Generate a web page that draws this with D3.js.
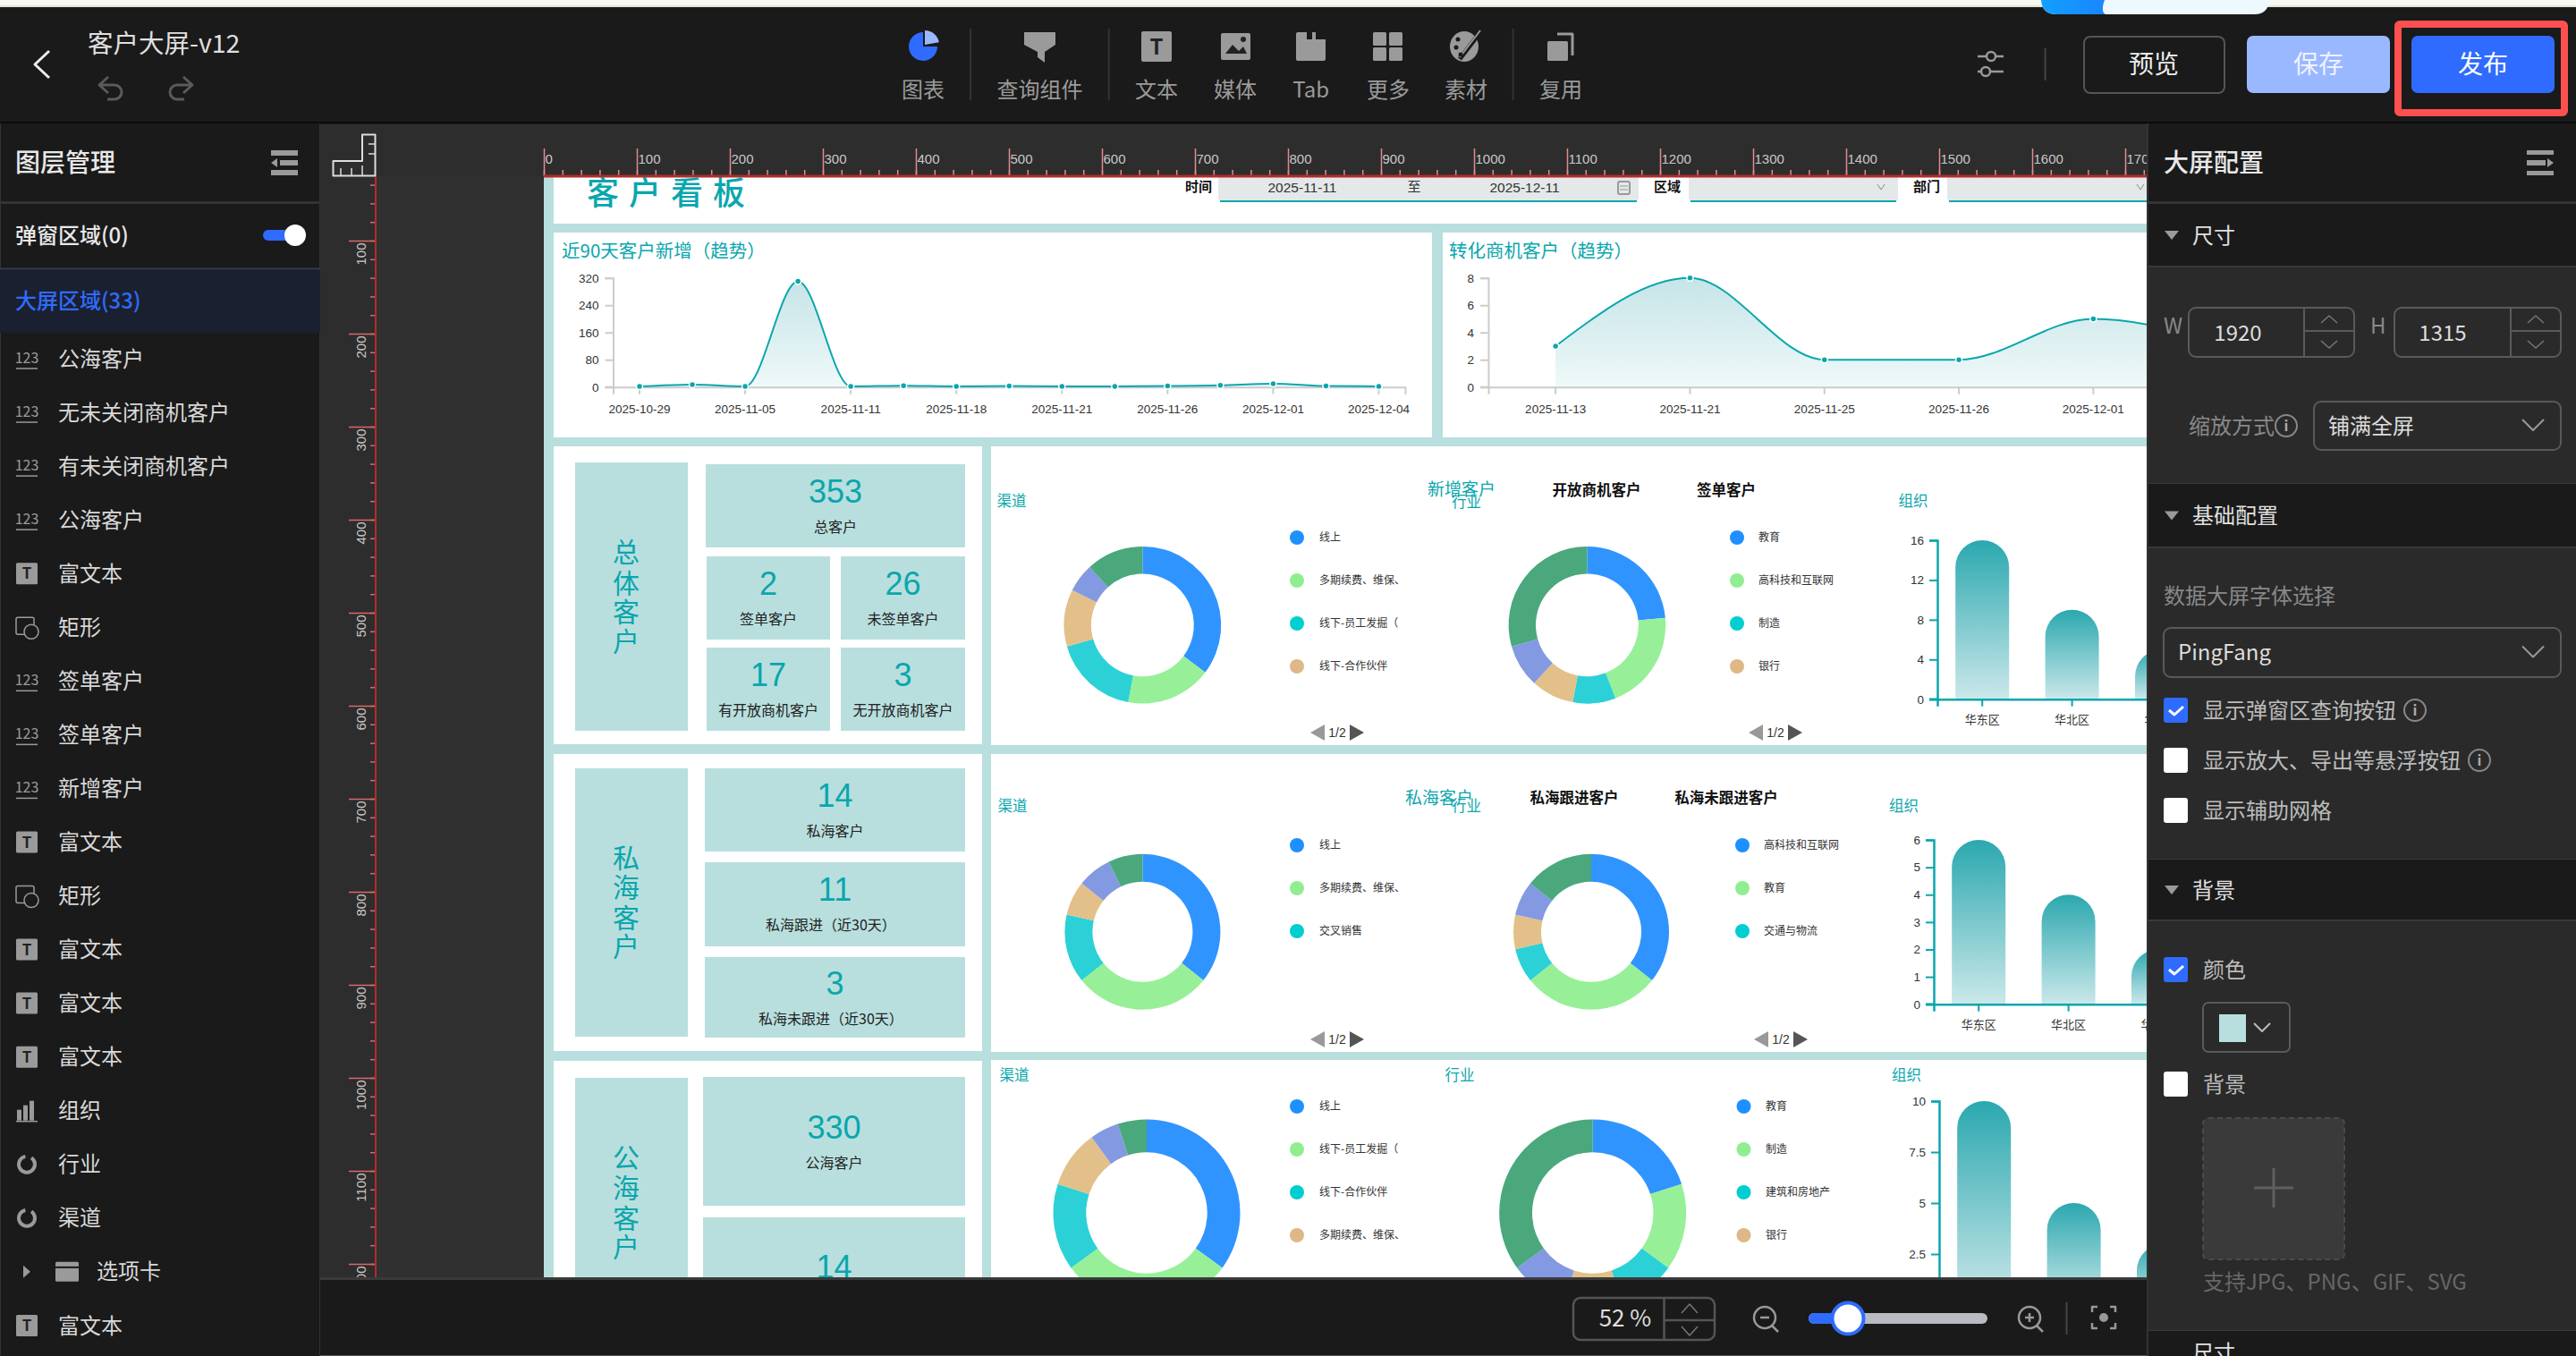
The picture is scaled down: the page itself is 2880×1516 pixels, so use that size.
<!DOCTYPE html>
<html><head><meta charset="utf-8">
<script src="https://cdn.jsdelivr.net/npm/d3@7"></script>
<style>
html,body{margin:0;padding:0;background:#1a1a1a;overflow:hidden}
svg{display:block}
text{font-family:"Liberation Sans","Noto Sans CJK SC",sans-serif}
.ui text,text.ui{font-family:"Noto Sans CJK SC","Noto Sans",sans-serif}
</style></head><body>
<script>
// ---------- DATA ----------
const trendDates = ["2025-10-29","2025-11-03","2025-11-05","2025-11-07","2025-11-11","2025-11-14","2025-11-18","2025-11-19","2025-11-21","2025-11-24","2025-11-26","2025-11-28","2025-12-01","2025-12-02","2025-12-04"];
const trendValues = [2,7,2,310,2,4,2,3,2,2,3,5,10,3,2];
const trendLabelled = ["2025-10-29","2025-11-05","2025-11-11","2025-11-18","2025-11-21","2025-11-26","2025-12-01","2025-12-04"];
const trendTicks = [0,80,160,240,320];
const convDates = ["2025-11-13","2025-11-21","2025-11-25","2025-11-26","2025-12-01","2025-12-04"];
const convValues = [3,8,2,2,5,3];
const convTicks = [0,2,4,6,8];

const pieChannel1 = [6,3,3,2,1,2];
const pieIndustry1 = [8,7,3,3,3,10];
const pieChannel2 = [5,4,2,1,1,1];
const pieIndustry2 = [5,4,1,1,1,2];
const pieChannel3 = [7,6,3,2,1,1];
const pieIndustry3 = [4,3,2,2,2,7];
const legendChannel1 = ["线上","多期续费、维保、","线下-员工发掘（","线下-合作伙伴"];
const legendIndustry1 = ["教育","高科技和互联网","制造","银行"];
const legendChannel2 = ["线上","多期续费、维保、","交叉销售"];
const legendIndustry2 = ["高科技和互联网","教育","交通与物流"];
const legendChannel3 = ["线上","线下-员工发掘（","线下-合作伙伴","多期续费、维保、"];
const legendIndustry3 = ["教育","制造","建筑和房地产","银行"];

const orgNames = ["华东区","华北区","华南区"];
const orgValues1 = [16,9,5];
const orgValues2 = [6,4,2];
const orgValues3 = [10,5,3];
const orgTicks1 = [0,4,8,12,16];
const orgTicks2 = [0,1,2,3,4,5,6];
const orgTicks3 = [0,2.5,5,7.5,10];

const layerNames = ["公海客户","无未关闭商机客户","有未关闭商机客户","公海客户","富文本","矩形","签单客户","签单客户","新增客户","富文本","矩形","富文本","富文本","富文本","组织","行业","渠道","选项卡","富文本"];
const layerKinds = ["n","n","n","n","t","r","n","n","n","t","r","t","t","t","b","d","d","f","t"];
const toolNames = ["图表","查询组件","文本","媒体","Tab","更多","素材","复用"];
const rulerXMajor = d3.range(0,1800,100);
const rulerXMinor = d3.range(0,1800,20);
const rulerYMajor = d3.range(0,1300,100);
const rulerYMinor = d3.range(0,1300,20);

// ---------- COLOURS ----------
const TEAL="#0aa6ad", BG="#b8dfde", DARK="#1a1a1a";
const sliceColors=["#3094ff","#97f097","#2bd1d6","#e3c089","#8399e2","#4aa87c"];
const legendColors=["#1e90ff","#90ee90","#00ced1","#deb887"];

// ---------- HELPERS ----------
const svg=d3.select("body").append("svg").attr("width",2880).attr("height",1516).attr("viewBox","0 0 2880 1516");
const defs=svg.append("defs");
function clip(id,x,y,w,h){defs.append("clipPath").attr("id",id).append("rect").attr("x",x).attr("y",y).attr("width",w).attr("height",h);}
function R(g,x0,y0,x1,y1,fill,o={}){const r=g.append("rect").attr("x",x0).attr("y",y0).attr("width",x1-x0).attr("height",y1-y0).attr("fill",fill);
  if(o.rx)r.attr("rx",o.rx); if(o.stroke)r.attr("stroke",o.stroke).attr("stroke-width",o.sw||2); if(o.dash)r.attr("stroke-dasharray",o.dash); return r;}
function T(g,x,y,s,size,fill,o={}){return g.append("text").attr("x",x).attr("y",y).attr("dy","0.36em").attr("font-size",size).attr("fill",fill)
  .attr("text-anchor",o.a||"middle").attr("font-weight",o.w||400).attr("letter-spacing",o.ls||null).attr("class",o.ui?"ui":null).text(s);}
function L(g,x0,y0,x1,y1,c,w=2){return g.append("line").attr("x1",x0).attr("y1",y0).attr("x2",x1).attr("y2",y1).attr("stroke",c).attr("stroke-width",w);}
function P(g,d,o={}){return g.append("path").attr("d",d).attr("fill",o.fill||"none").attr("stroke",o.stroke||"none").attr("stroke-width",o.sw||2).attr("stroke-linejoin","round");}

// ---------- FRAME ----------
R(svg,0,0,2880,1516,DARK);
R(svg,0,0,2880,6,"#f6f9f0"); R(svg,0,6,2880,8,"#dfe6d8");
R(svg,358,138,2400,1430,"#2d2d2d");
R(svg,421,197,608,1428,"#303030");
R(svg,0,136,2880,138.5,"#0b0b0b");

// ---------- CANVAS ----------
clip("cv",608,197,1792,1231);
const cv=svg.append("g").attr("clip-path","url(#cv)");
R(cv,608,197,2400,1428,BG);
R(cv,619,197,2400,250,"#fff");
T(cv,656,216.5,"客户看板",36,TEAL,{a:"start",ls:11,w:500,ui:true});

// filter bar
function field(x0,x1){R(cv,x0,190,x1,225,"#e4e8e9",{rx:4});L(cv,x0+2,225,x1-2,225,TEAL,2);}
T(cv,1340,209,"时间",15,"#111",{w:700,ui:true});
field(1362,1832);
T(cv,1456,209,"2025-11-11",15.5,"#333");T(cv,1581,209,"至",15,"#333",{ui:true});T(cv,1704.5,209,"2025-12-11",15.5,"#333");
R(cv,1809,203,1822,217,"none",{stroke:"#999",sw:2,rx:2});L(cv,1811,208,1820,208,"#999",1);L(cv,1811,212,1820,212,"#999",1);
T(cv,1864,209,"区域",15,"#111",{w:700,ui:true});
field(1888,2122);
P(cv,"M2099,206 L2103,212 L2107,206",{stroke:"#888",sw:1});
T(cv,2154,209,"部门",15,"#111",{w:700,ui:true});
field(2177,2410);
P(cv,"M2389,206 L2393,212 L2397,206",{stroke:"#888",sw:1});

// panels
[[619,260,1601,489],[1613,260,2400,489],
 [619,499,1098,832],[1108,499,2400,833],
 [619,843,1098,1175],[1108,843,2400,1176],
 [619,1186,1098,1428],[1108,1185,2400,1428]].forEach(p=>R(cv,p[0],p[1],p[2],p[3],"#fff"));

// gradients
function vGrad(id,stops){const g=defs.append("linearGradient").attr("id",id).attr("x1",0).attr("y1",0).attr("x2",0).attr("y2",1);
  stops.forEach(s=>g.append("stop").attr("offset",s[0]).attr("stop-color",s[1]));}
vGrad("areaG",[[0,"#c6e4e7"],[1,"#eff9f9"]]);
vGrad("barG",[[0,"#2ba8af"],[1,"#cbe8ea"]]);

function trend(opts){
  const {x0,x1,cats,vals,labelled,ticks,title,titleX}=opts;
  const yTop=310.7,yBot=432.7;
  const x=d3.scaleBand().domain(cats).range([x0,x1]);
  const y=d3.scaleLinear().domain([ticks[0],ticks[ticks.length-1]]).range([yBot,yTop]);
  const cx=d=>x(d)+x.bandwidth()/2;
  const g=cv.append("g");
  T(g,titleX,280.7,title,20.5,TEAL,{a:"start",ui:true});
  const area=d3.area().x((d,i)=>cx(cats[i])).y0(yBot).y1(d=>y(d)).curve(d3.curveMonotoneX);
  const line=d3.line().x((d,i)=>cx(cats[i])).y(d=>y(d)).curve(d3.curveMonotoneX);
  g.append("path").attr("d",area(vals)).attr("fill","url(#areaG)");
  const ax=g.append("g").attr("transform",`translate(0,${yBot})`).call(d3.axisBottom(x).tickValues(labelled).tickSize(8).tickPadding(12));
  const ay=g.append("g").attr("transform",`translate(${x0},0)`).call(d3.axisLeft(y).tickValues(ticks).tickSize(9).tickPadding(7));
  [ax,ay].forEach(a=>{a.select(".domain").attr("stroke","#ccc").attr("stroke-width",2);
    a.selectAll("line").attr("stroke","#ccc").attr("stroke-width",2);
    a.selectAll("text").attr("font-size",13.5).attr("fill","#333").attr("font-family",'"Liberation Sans"');});
  L(g,x0-9,yBot,x0,yBot,"#ccc",2);
  g.append("path").attr("d",line(vals)).attr("fill","none").attr("stroke",TEAL).attr("stroke-width",2);
  g.selectAll("circle").data(vals).join("circle").attr("cx",(d,i)=>cx(cats[i])).attr("cy",d=>y(d)).attr("r",3.5).attr("fill",TEAL).attr("stroke","#fff").attr("stroke-width",1.5);
}
trend({x0:685.5,x1:1571,cats:trendDates,vals:trendValues,labelled:trendLabelled,ticks:trendTicks,title:"近90天客户新增（趋势）",titleX:628});
trend({x0:1664,x1:1664+150.3*6,cats:convDates,vals:convValues,labelled:convDates,ticks:convTicks,title:"转化商机客户（趋势）",titleX:1620});

// KPI
function kpi(x0,y0,x1,y1,num,label,ny,ly,lx){
  R(cv,x0,y0,x1,y1,BG);
  T(cv,(x0+x1)/2,ny,num,36,TEAL);
  if(label)T(cv,lx||(x0+x1)/2,ly,label,16,"#222",{ui:true});
}
function vlabel(chars,ys,y0,y1){R(cv,643,y0,769,y1,BG);chars.split("").forEach((c,i)=>T(cv,700,ys[i],c,30,TEAL,{ui:true}));}
vlabel("总体客户",[617,652,684,717],517,817);
kpi(789,519,1079,612,"353","总客户",549,589);
kpi(790,622,928,715,"2","签单客户",652,692);
kpi(940,622,1079,715,"26","未签单客户",652,692);
kpi(790,724,928,817,"17","有开放商机客户",754,794);
kpi(940,724,1079,817,"3","无开放商机客户",754,794);
vlabel("私海客户",[959,992,1026,1058],859,1159);
kpi(788,859,1079,952,"14","私海客户",889,929);
kpi(788,964,1079,1058,"11","私海跟进（近30天）",994,1034,929);
kpi(788,1070,1079,1160,"3","私海未跟进（近30天）",1099,1139,929);
vlabel("公海客户",[1294,1328,1362,1394],1205,1440);
kpi(786,1204,1079,1348,"330","公海客户",1260,1300);
kpi(786,1361,1079,1460,"14","",1416,0);

// donuts
function donut(vals,cx,cy,Ro,Ri){
  const pie=d3.pie().sort(null)(vals);
  const arc=d3.arc().innerRadius(Ri).outerRadius(Ro);
  cv.append("g").attr("transform",`translate(${cx},${cy})`).selectAll("path").data(pie).join("path").attr("d",arc).attr("fill",(d,i)=>sliceColors[i]);
}
function legend(names,cxx,tx,ys){
  names.forEach((n,i)=>{cv.append("circle").attr("cx",cxx).attr("cy",ys[i]).attr("r",8).attr("fill",legendColors[i]);
    T(cv,tx,ys[i],n,12,"#333",{a:"start",ui:true});});
}
function pager(cx,y){
  P(cv,`M${cx-14},${y-9} L${cx-14},${y+9} L${cx-30},${y} Z`,{fill:"#999"});
  T(cv,cx,y,"1/2",14,"#333");
  P(cv,`M${cx+14},${y-9} L${cx+14},${y+9} L${cx+30},${y} Z`,{fill:"#555"});
}
donut(pieChannel1,1277.4,698.8,87.8,57.4);
donut(pieIndustry1,1774.4,698.8,87.8,57.4);
donut(pieChannel2,1277.4,1041.8,87,56);
donut(pieIndustry2,1779,1041.8,87,56);
donut(pieChannel3,1282,1356,104.5,67.7);
donut(pieIndustry3,1780.7,1356,104.5,67.7);
legend(legendChannel1,1450,1475,[601,649,697,745]);
legend(legendIndustry1,1942,1966,[601,649,697,745]);
legend(legendChannel2,1450,1475,[945,993,1041]);
legend(legendIndustry2,1948,1972,[945,993,1041]);
legend(legendChannel3,1450,1475,[1237,1285,1333,1381]);
legend(legendIndustry3,1949.5,1974,[1237,1285,1333,1381]);
pager(1495,819);pager(1985,819);pager(1495,1162);pager(1991,1162);

// panel titles
T(cv,1131,560,"渠道",16.5,TEAL,{ui:true});T(cv,1639.5,560.7,"行业",16.5,TEAL,{ui:true});
T(cv,1634,547,"新增客户",19,TEAL,{ui:true});
T(cv,1785,548,"开放商机客户",16.5,"#111",{w:700,ui:true});T(cv,1930,548,"签单客户",16.5,"#111",{w:700,ui:true});
T(cv,2139,560,"组织",16.5,TEAL,{ui:true});
T(cv,1132,901,"渠道",16.5,TEAL,{ui:true});T(cv,1639.5,901,"行业",16.5,TEAL,{ui:true});
T(cv,1609,892,"私海客户",19,TEAL,{ui:true});
T(cv,1760,892,"私海跟进客户",16.5,"#111",{w:700,ui:true});T(cv,1930,892,"私海未跟进客户",16.5,"#111",{w:700,ui:true});
T(cv,2128.6,901,"组织",16.5,TEAL,{ui:true});
T(cv,1134,1202,"渠道",16.5,TEAL,{ui:true});T(cv,1632,1202,"行业",16.5,TEAL,{ui:true});T(cv,2131.5,1202,"组织",16.5,TEAL,{ui:true});

// bar charts
function bars(vals,ticks,x0,yTop,yBot){
  const step=100.4,bw=60;
  const x=d3.scaleBand().domain(orgNames).range([x0,x0+step*orgNames.length]);
  const y=d3.scaleLinear().domain([0,ticks[ticks.length-1]]).range([yBot,yTop]);
  const g=cv.append("g");
  g.selectAll("path.bar").data(vals).join("path").attr("class","bar").attr("fill","url(#barG)").attr("d",(d,i)=>{
    const c=x(orgNames[i])+x.bandwidth()/2,t=y(d),b=yBot,r=bw/2,p=d3.path();
    p.moveTo(c-r,b);p.lineTo(c-r,t+r);p.arc(c,t+r,r,Math.PI,0);p.lineTo(c+r,b);p.closePath();return p.toString();});
  const ax=g.append("g").attr("transform",`translate(0,${yBot})`).call(d3.axisBottom(x).tickSize(8).tickPadding(10));
  const ay=g.append("g").attr("transform",`translate(${x0},0)`).call(d3.axisLeft(y).tickValues(ticks).tickSize(9).tickPadding(6).tickFormat(d3.format("~g")));
  [ax,ay].forEach(a=>{a.select(".domain").attr("stroke",TEAL).attr("stroke-width",2.5);
    a.selectAll("line").attr("stroke",TEAL).attr("stroke-width",2);
    a.selectAll("text").attr("font-size",13.5).attr("fill","#333");});
  ax.selectAll("text").attr("font-size",13).attr("font-family",'"Noto Sans CJK SC"');
  L(g,x0-9,yBot,x0,yBot,TEAL,2.5);
}
bars(orgValues1,orgTicks1,2166,604,781.7);
bars(orgValues2,orgTicks2,2162,939,1122.7);
bars(orgValues3,orgTicks3,2168,1231,1459);

// ---------- RULERS ----------
clip("rx",600,138,1800,62);clip("ry",358,197,64,1231);
const rx=svg.append("g").attr("clip-path","url(#rx)");
const sx=d3.scaleLinear().domain([0,1000]).range([608,608+1040]);
const minorX=rx.append("g").attr("transform","translate(0,197)").call(d3.axisTop(sx).tickValues(rulerXMinor).tickSize(7).tickFormat(""));
const majorX=rx.append("g").attr("transform","translate(0,197)").call(d3.axisTop(sx).tickValues(rulerXMajor).tickSize(31).tickFormat(d3.format("d")));
minorX.selectAll("text").remove();
[minorX,majorX].forEach(a=>{a.select(".domain").remove();a.selectAll("line").attr("stroke","#e58b8b").attr("stroke-width",1.5);});
majorX.selectAll("text").attr("text-anchor","start").attr("x",1).attr("y",-14).attr("dy","0").attr("fill","#c8c8c8").attr("font-size",15);
R(rx,608,195.5,2400,198.5,"#b02c2c");
const ry=svg.append("g").attr("clip-path","url(#ry)");
const sy=d3.scaleLinear().domain([0,1000]).range([165,165+1040]);
const minorY=ry.append("g").attr("transform","translate(420,0)").call(d3.axisLeft(sy).tickValues(rulerYMinor).tickSize(6).tickFormat(""));
const majorY=ry.append("g").attr("transform","translate(420,0)").call(d3.axisLeft(sy).tickValues(rulerYMajor).tickSize(30).tickFormat(d3.format("d")));
minorY.selectAll("text").remove();
[minorY,majorY].forEach(a=>{a.select(".domain").remove();a.selectAll("line").attr("stroke","#d96a6a").attr("stroke-width",1.5);});
majorY.selectAll("text").attr("transform","rotate(-90)").attr("text-anchor","end").attr("x",-2).attr("y",-11).attr("dy","0").attr("fill","#c8c8c8").attr("font-size",15);
R(ry,419,197,421,1428,"#b02c2c");
// corner icon
P(svg,"M372.5,196.5 V180 H405 V150.5 H419.5 V196.5 Z",{stroke:"#ddd",sw:2});
[[381,188],[393,188],[405,185]].forEach(p=>L(svg,p[0],p[1],p[0],196,"#ddd",1.5));
[[412,161],[412,172]].forEach(p=>L(svg,p[0],p[1],419,p[1],"#ddd",1.5));

// ---------- BOTTOM BAR ----------
R(svg,358,1428,2400,1431,"#3a3a3a");
R(svg,358,1431,2400,1516,DARK);
R(svg,0,1515,2880,1516,"#555");
const bb=svg.append("g").attr("class","ui");
R(bb,1759,1451,1917,1498,"none",{stroke:"#555",sw:2.5,rx:8});
L(bb,1860.5,1451,1860.5,1498,"#555",2.5);L(bb,1860.5,1476,1917,1476,"#555",2.5);
T(bb,1817,1474,"52 %",26,"#ddd");
P(bb,"M1880,1468 L1889,1458 L1898,1468",{stroke:"#777",sw:1.5});P(bb,"M1880,1483 L1889,1493 L1898,1483",{stroke:"#777",sw:1.5});
function mag(cx,plus){bb.append("circle").attr("cx",cx).attr("cy",1473).attr("r",12).attr("fill","none").attr("stroke","#999").attr("stroke-width",2.5);
  L(bb,cx+8,1482,cx+15,1489,"#999",2.5);L(bb,cx-5,1473,cx+5,1473,"#999",2.5);if(plus)L(bb,cx,1468,cx,1478,"#999",2.5);}
mag(1973,false);mag(2269,true);
R(bb,2022,1468,2222,1480,"#b8bbc0",{rx:6});R(bb,2022,1468,2066,1480,"#2f6bff",{rx:6});
bb.append("circle").attr("cx",2066).attr("cy",1474).attr("r",17.5).attr("fill","#fff").attr("stroke","#2f6bff").attr("stroke-width",4);
L(bb,2310.5,1456,2310.5,1492,"#444",2);
P(bb,"M2339,1467 V1461 H2345 M2359,1461 H2365 V1467 M2365,1479 V1485 H2359 M2345,1485 H2339 V1479",{stroke:"#999",sw:2.5});
bb.append("circle").attr("cx",2352).attr("cy",1473).attr("r",5).attr("fill","#999");

// ---------- LEFT PANEL ----------
const lp=svg.append("g").attr("class","ui");
R(lp,0,138,358,1516,DARK);R(lp,0,138,1,1516,"#333");R(lp,357,138,358,1516,"#333");
T(lp,17,182,"图层管理",28,"#e8e8e8",{a:"start",w:500});
R(lp,303,168,333,174,"#9a9a9a");R(lp,313,179,333,185,"#9a9a9a");R(lp,303,190,333,196,"#9a9a9a");P(lp,"M303,182 L310,177 V187 Z",{fill:"#9a9a9a"});
R(lp,0,225,358,228,"#333");
T(lp,17,263,"弹窗区域(0)",24,"#e8e8e8",{a:"start",w:500});
R(lp,294,257,325,269,"#2f6bff",{rx:6});lp.append("circle").attr("cx",330).attr("cy",263).attr("r",12).attr("fill","#fff");
R(lp,0,299.5,358,301.5,"#3a3d48");
R(lp,0,301.5,358,372,"#1b2030");
T(lp,17,336,"大屏区域(33)",24,"#2f6bff",{a:"start",w:500});
layerNames.forEach((n,i)=>{
  const y=401+60.05*i,k=layerKinds[i],c="#9a9a9a";
  T(lp,k==="f"?108:65,y,n,24,"#d8d8d8",{a:"start"});
  if(k==="n"){T(lp,30,y-1,"123",16,c,{});L(lp,18,y+11,42,y+11,c,1.5);}
  if(k==="t"){R(lp,18,y-12,42,y+12,c,{rx:1.5});T(lp,30,y,"T",17,"#222",{w:700});}
  if(k==="r"){R(lp,18,y-11,38,y+8,"none",{stroke:c,sw:1.5,rx:2});lp.append("circle").attr("cx",35).attr("cy",y+5).attr("r",8).attr("fill",DARK).attr("stroke",c).attr("stroke-width",1.5);}
  if(k==="b"){R(lp,19,y-1,24,y+11,c);R(lp,26,y-6,31,y+11,c);R(lp,33,y-11,38,y+11,c);L(lp,18,y+12,42,y+12,c,1.5);}
  if(k==="d"){const a=d3.arc().innerRadius(7).outerRadius(11).startAngle(0.6).endAngle(6.1)();lp.append("path").attr("d",a).attr("fill",c).attr("transform",`translate(30,${y})`);}
  if(k==="f"){P(lp,`M26,${y-7} L34,${y} L26,${y+7} Z`,{fill:"#999"});R(lp,62,y-11,88,y+11,c,{rx:1.5});R(lp,62,y-6,88,y-4,DARK);}
});

// ---------- RIGHT PANEL ----------
const rp=svg.append("g").attr("class","ui");
R(rp,2400,138,2880,1516,DARK);R(rp,2400,138,2402,1516,"#333");
T(rp,2419,182,"大屏配置",28,"#e8e8e8",{a:"start",w:500});
R(rp,2825,168,2855,173,"#9a9a9a");R(rp,2825,179,2846,185,"#9a9a9a");R(rp,2825,191,2855,196,"#9a9a9a");P(rp,"M2848,177 L2855,182 L2848,187 Z",{fill:"#9a9a9a"});
R(rp,2402,225,2880,228,"#333");
function section(y0,y1,y2,label){
  R(rp,2402,y0,2880,y1,DARK);R(rp,2402,y1,2880,y2,"#2a2a2a");R(rp,2402,y1-1,2880,y1+1,"#3a3a3a");R(rp,2402,y2-1,2880,y2+1,"#3a3a3a");
  P(rp,`M2420,${(y0+y1)/2-5} H2436 L2428,${(y0+y1)/2+5} Z`,{fill:"#9a9a9a"});
  T(rp,2451,(y0+y1)/2,label,24,"#e0e0e0",{a:"start"});
}
section(228,298,541,"尺寸");section(541,612,961,"基础配置");section(961,1029,1488,"背景");
R(rp,2402,1488,2880,1516,DARK);
T(rp,2451,1512,"尺寸",24,"#e0e0e0",{a:"start"});
function stepper(x0,x1,xd,label,lx,cx,val){
  T(rp,lx,364,label,24,"#888",{a:"start"});
  R(rp,x0,344,x1,399,"none",{stroke:"#5a5a5a",sw:2,rx:8});
  L(rp,xd,344,xd,399,"#5a5a5a",2);L(rp,xd,370,x1,370,"#5a5a5a",2);
  T(rp,cx,372,val,24,"#ddd");
  const m=(xd+x1)/2;P(rp,`M${m-9},361 L${m},353 L${m+9},361`,{stroke:"#777",sw:1.5});P(rp,`M${m-9},381 L${m},389 L${m+9},381`,{stroke:"#777",sw:1.5});
}
stepper(2447,2632,2576,"W",2419,2502,"1920");
stepper(2677,2863,2807,"H",2650,2731,"1315");
function info(cx,cy){rp.append("circle").attr("cx",cx).attr("cy",cy).attr("r",12).attr("fill","none").attr("stroke","#888").attr("stroke-width",2);T(rp,cx,cy,"i",16,"#aaa",{w:700});}
function select(x0,x1,y0,y1,label,tx){R(rp,x0,y0,x1,y1,"none",{stroke:"#5a5a5a",sw:2,rx:8});T(rp,tx,(y0+y1)/2,label,24,"#ddd",{a:"start"});
  const m=(y0+y1)/2;P(rp,`M${x1-43},${m-7} L${x1-31},${m+5} L${x1-19},${m-7}`,{stroke:"#999",sw:2});}
T(rp,2447,476,"缩放方式",24,"#888",{a:"start"});info(2556,476);
select(2587,2863,449,503,"铺满全屏",2603);
T(rp,2419,666,"数据大屏字体选择",24,"#888",{a:"start"});
select(2419,2863,702,757,"PingFang",2435);
function check(y,on,label,ix){
  R(rp,2419,y-14,2446,y+14,on?"#2f6bff":"#fff",{rx:3});
  if(on)P(rp,`M2425,${y} L2431,${y+5} L2441,${y-4}`,{stroke:"#fff",sw:3});
  T(rp,2463,y,label,24,"#bbb",{a:"start"});if(ix)info(ix,y);
}
check(794,true,"显示弹窗区查询按钮",2700);
check(850,false,"显示放大、导出等悬浮按钮",2772);
check(906,false,"显示辅助网格");
check(1084,true,"颜色");
R(rp,2463,1121,2560,1176,"none",{stroke:"#5a5a5a",sw:2,rx:6});R(rp,2481,1134,2511,1165,BG);
P(rp,"M2520,1144 L2529,1153 L2538,1144",{stroke:"#bbb",sw:2});
check(1212,false,"背景");
R(rp,2463,1250,2621,1408,"#3a3a3a",{rx:6,stroke:"#4a4a4a",sw:2,dash:"6 4"});
L(rp,2520,1328,2564,1328,"#5f5f5f",3);L(rp,2542,1306,2542,1350,"#5f5f5f",3);
T(rp,2463,1433,"支持JPG、PNG、GIF、SVG",24,"#666",{a:"start"});

// ---------- TOP BAR ----------
const tb=svg.append("g").attr("class","ui");
P(tb,"M55,57 L39,72 L55,87",{stroke:"#eee",sw:3});
T(tb,98,49,"客户大屏-v12",28.5,"#e0e0e0",{a:"start"});
P(tb,"M121,86 L111,95 L121,104 M112,95 H128 A8,8 0 0 1 128,111 H120",{stroke:"#5a5a5a",sw:3});
P(tb,"M205,86 L215,95 L205,104 M214,95 H198 A8,8 0 0 0 198,111 H206",{stroke:"#5a5a5a",sw:3});
const toolX=[1032,1162.5,1293,1381,1465.7,1552,1639,1745];
toolNames.forEach((n,i)=>T(tb,toolX[i],100,n,24,"#9a9a9a"));
[1085,1239.7,1691.6].forEach(x=>L(tb,x,32,x,112,"#333",2));
const c="#9a9a9a";
tb.append("path").attr("d",d3.arc().innerRadius(0).outerRadius(16).startAngle(1.57).endAngle(6.28)()).attr("fill","#2f6bff").attr("transform","translate(1032,52)");
tb.append("path").attr("d",d3.arc().innerRadius(0).outerRadius(16).startAngle(0).endAngle(1.4)()).attr("fill","#9ab8ff").attr("transform","translate(1034,50)");
P(tb,"M1145,36 H1180 V50 L1168,58 V70 L1160,64 V58 L1145,50 Z",{fill:c});
R(tb,1276,35,1310,69,c,{rx:2});T(tb,1293,52,"T",24,"#222",{w:700});
R(tb,1365,37,1398,67,c,{rx:2});P(tb,"M1370,60 L1378,50 L1385,57 L1390,52 L1394,60 Z",{fill:"#222"});tb.append("circle").attr("cx",1390).attr("cy",44).attr("r",3).attr("fill","#222");
R(tb,1449,36,1482,68,c,{rx:2});R(tb,1461,36,1467,44,DARK);R(tb,1471,36,1482,44,DARK);
[[1535,36],[1553,36],[1535,53],[1553,53]].forEach(p=>R(tb,p[0],p[1],p[0]+15,p[1]+15,c,{rx:1.5}));
tb.append("ellipse").attr("cx",1637).attr("cy",52).attr("rx",16).attr("ry",17).attr("fill",c);
L(tb,1632,66,1655,36,DARK,5);L(tb,1632,64,1655,34,c,2);
[[1630,44],[1628,53],[1633,61]].forEach(p=>tb.append("circle").attr("cx",p[0]).attr("cy",p[1]).attr("r",2.5).attr("fill",DARK));
R(tb,1730,46,1753,68,c,{rx:1.5});P(tb,"M1741,38 H1758 V62",{stroke:c,sw:3});
P(tb,"M2211,63 H2240 M2211,80 H2240",{stroke:"#999",sw:2.5});
[[2226,63],[2220,80]].forEach(p=>tb.append("circle").attr("cx",p[0]).attr("cy",p[1]).attr("r",5).attr("fill",DARK).attr("stroke","#999").attr("stroke-width",2.5));
L(tb,2286.6,54,2286.6,90,"#444",2);
R(tb,2330,41,2487,104,"none",{stroke:"#555",sw:2,rx:7});T(tb,2408,72,"预览",28,"#eee");
R(tb,2512,40,2672,104,"#9ab8ff",{rx:7});T(tb,2592,72,"保存",28,"#eef2ff");
R(tb,2696,40,2856,104,"#2f6bff",{rx:7});T(tb,2776,72,"发布",28,"#fff");
R(tb,2681,27,2867,126,"none",{stroke:"#ff5050",sw:8,rx:2});
// top pill
defs.append("linearGradient").attr("id","pill").attr("x1",0).attr("x2",1).attr("y1",0).attr("y2",0).call(g=>{g.append("stop").attr("offset",0).attr("stop-color","#12a0ff");g.append("stop").attr("offset",1).attr("stop-color","#1a86ff");});
P(svg,"M2282,0 H2537 C2536,10 2532,16 2520,16 H2299 C2287,16 2283,10 2282,0 Z",{fill:"#eef8ff"});
P(svg,"M2282,0 H2353 C2350,8 2350,14 2354,16 H2299 C2287,16 2283,10 2282,0 Z",{fill:"url(#pill)"});
</script>
</body></html>
